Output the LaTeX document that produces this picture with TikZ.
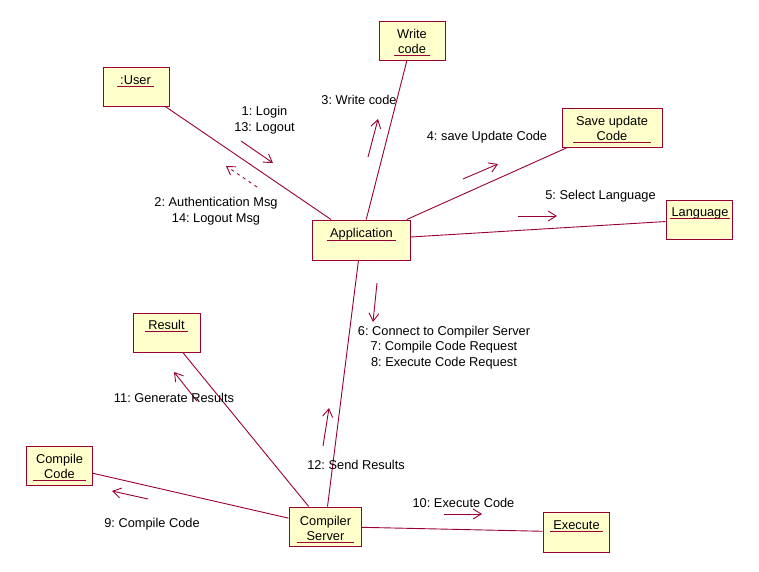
\documentclass[tikz,border=0pt]{standalone}
\usepackage{fontspec}
\setmainfont{Liberation Sans}
\usetikzlibrary{arrows.meta}
\definecolor{umlred}{RGB}{153,0,51}
\definecolor{umlfill}{RGB}{255,255,204}
\frenchspacing
\tikzset{
  objbox/.style={draw=umlred, fill=umlfill, line width=1pt, inner sep=0pt},
  objtext/.style={anchor=south, align=center, inner xsep=3pt, inner ysep=0pt, text depth=2pt,
     font=\fontsize{12.8}{15.5}\selectfont},
  uline/.style={draw=umlred, line width=0.9pt},
  link/.style={draw=umlred, line width=0.9pt},
  msg/.style={draw=umlred, line width=0.9pt, -{Straight Barb[length=8pt,width=10pt,line width=0.9pt]}},
  retmsg/.style={msg, dash pattern=on 3pt off 4pt},
  lbl/.style={align=center, inner sep=0pt, font=\fontsize{12.8}{15.5}\selectfont}
}
\begin{document}
\begin{tikzpicture}[x=1pt,y=-1pt]
\useasboundingbox (0,0) rectangle (759,571);
% boxes
\node[objbox, minimum width=66, minimum height=39] (user) at (136,86.5) {};
\node[objbox, minimum width=66, minimum height=39] (write) at (412,40.5) {};
\node[objbox, minimum width=100, minimum height=39] (save) at (612,127.5) {};
\node[objbox, minimum width=66, minimum height=39] (lang) at (699,219.5) {};
\node[objbox, minimum width=98, minimum height=40] (app) at (361,240) {};
\node[objbox, minimum width=67, minimum height=39] (result) at (166.5,332.5) {};
\node[objbox, minimum width=66, minimum height=39] (compile) at (59,465.5) {};
\node[objbox, minimum width=72, minimum height=39] (server) at (325,526.5) {};
\node[objbox, minimum width=66, minimum height=40] (exec) at (576,532) {};
% box texts
\node[objtext] (tuser) at (135.5,86.5) {:User};
\node[objtext] (twrite) at (412,55.8) {Write\\code};
\node[objtext] (tsave) at (612,142.8) {Save update\\Code};
\node[objtext, inner xsep=1.5pt] (tlang) at (700,218.5) {Language};
\node[objtext] (tapp) at (361.5,240) {Application};
\node[objtext] (tresult) at (166.5,331.5) {Result};
\node[objtext] (tcompile) at (59.5,480.8) {Compile\\Code};
\node[objtext] (tserver) at (325.5,542.8) {Compiler\\Server};
\node[objtext] (texec) at (576.5,531.2) {Execute};
\foreach \t in {tuser,twrite,tsave,tlang,tapp,tresult,tcompile,tserver,texec}
  \draw[uline] (\t.south west) -- (\t.south east);
% links
\draw[link] (user) -- (app);
\draw[link] (write) -- (app);
\draw[link] (save) -- (app);
\draw[link] (lang) -- (app);
\draw[link] (app) -- (server);
\draw[link] (result) -- (server);
\draw[link] (compile) -- (server);
\draw[link] (server) -- (exec);
% message arrow ends
\coordinate (m1a) at (241,141); \coordinate (m1b) at (273,163);
\coordinate (m2a) at (257,187); \coordinate (m2b) at (226,166);
\coordinate (m3a) at (368,157); \coordinate (m3b) at (378,119);
\coordinate (m4a) at (463,179); \coordinate (m4b) at (498,164);
\coordinate (m5a) at (518,216); \coordinate (m5b) at (557,216);
\coordinate (m6a) at (377,283); \coordinate (m6b) at (373,322);
\coordinate (m12a) at (323,446); \coordinate (m12b) at (329,408);
\coordinate (m11a) at (197,401); \coordinate (m11b) at (174,372);
\coordinate (m9a) at (148,499); \coordinate (m9b) at (112,491);
\coordinate (m10a) at (444,514); \coordinate (m10b) at (482,514);
\draw[msg] (m1a) -- (m1b);
\draw[retmsg] (m2a) -- (m2b);
\draw[msg] (m3a) -- (m3b);
\draw[msg] (m4a) -- (m4b);
\draw[msg] (m5a) -- (m5b);
\draw[msg] (m6a) -- (m6b);
\draw[msg] (m12a) -- (m12b);
\draw[msg] (m11a) -- (m11b);
\draw[msg] (m9a) -- (m9b);
\draw[msg] (m10a) -- (m10b);
% labels
\node[lbl] (l1) at (264.5,120) {1: Login\\13: Logout};
\node[lbl] (l2) at (216,211) {2: Authentication Msg\\14: Logout Msg};
\node[lbl] (l3) at (359,99.5) {3: Write code};
\node[lbl] (l4) at (487,137.5) {4: save Update Code};
\node[lbl] (l5) at (600.5,196.5) {5: Select Language};
\node[lbl, anchor=north] (l6) at (444,326) {6: Connect to Compiler Server\\7: Compile Code Request\\8: Execute Code Request};
\node[lbl] (l11) at (174,397.5) {11: Generate Results};
\node[lbl] (l12) at (356,464.5) {12: Send Results};
\node[lbl] (l9) at (152,524.5) {9: Compile Code};
\node[lbl] (l10) at (463.5,502.5) {10: Execute Code};
\end{tikzpicture}
\end{document}
